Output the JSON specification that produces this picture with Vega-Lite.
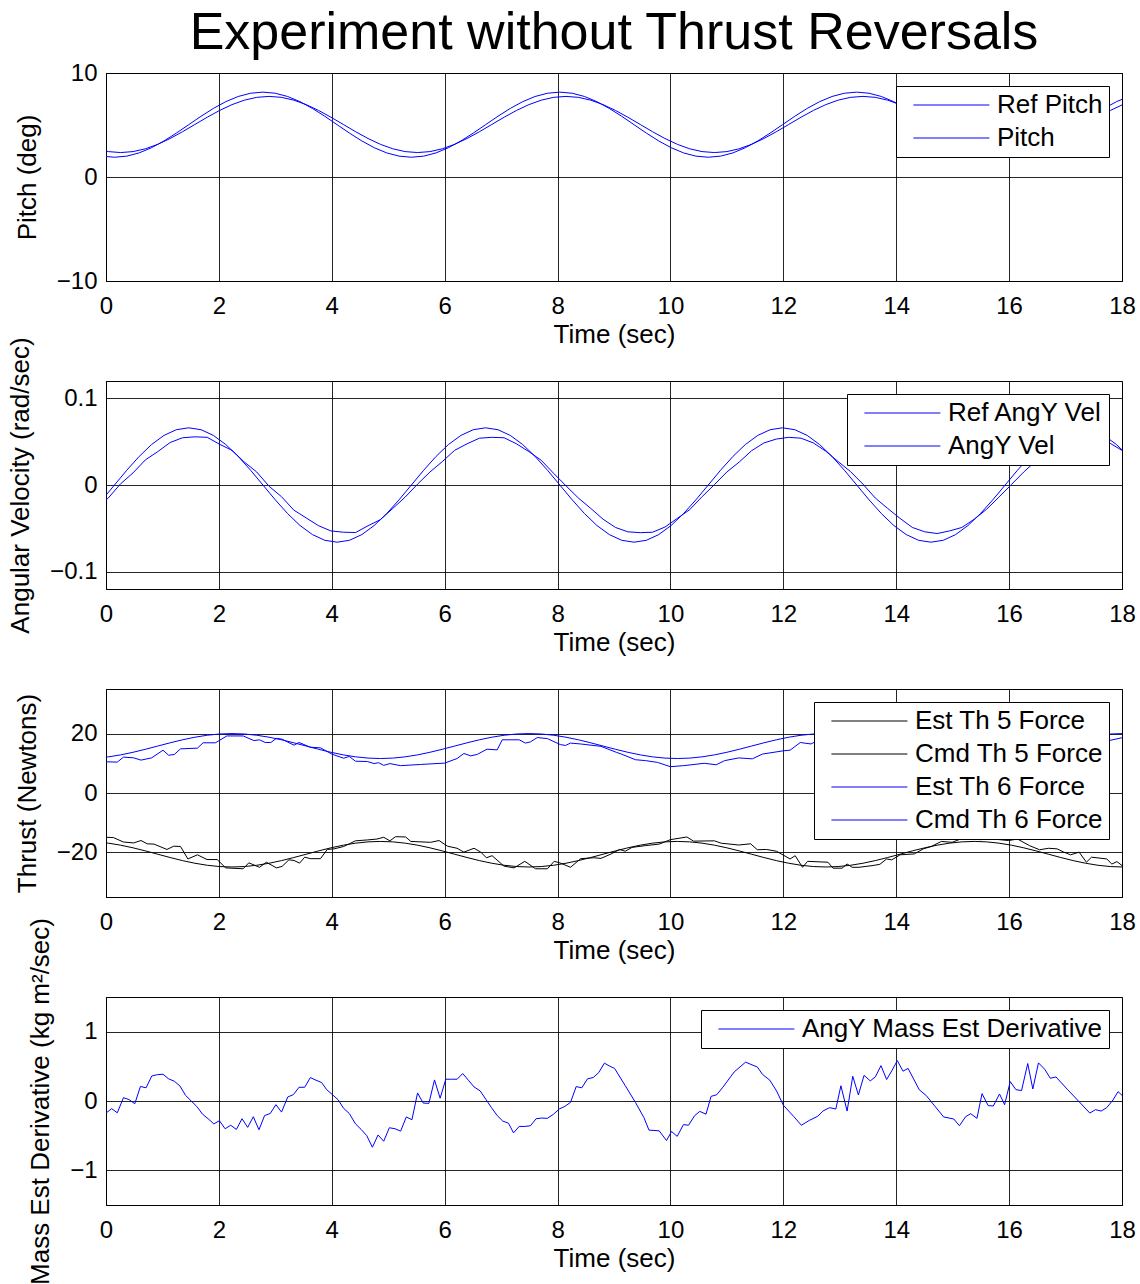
{
"$schema": "https://vega.github.io/schema/vega-lite/v6.json",
"background": "white",
"padding": {"left": 7, "top": 6, "right": 0, "bottom": 0},
"title": {"text": "Experiment without Thrust Reversals", "fontSize": 52, "font": "Liberation Sans", "fontWeight": "normal", "color": "#000000", "anchor": "middle", "frame": "group", "offset": 1},
"spacing": 100,
"bounds": "flush",
"resolve": {"scale": {"color": "independent"}, "legend": {"color": "independent"}},
"datasets": {
"gA": [
{"t":-0.069,"Ref Pitch":2.007,"Ref AngY Vel":-0.0171},{"t":0.15,"Ref Pitch":1.9,"Ref AngY Vel":0},{"t":0.369,"Ref Pitch":2.007,"Ref AngY Vel":0.0171},{"t":0.588,"Ref Pitch":2.319,"Ref AngY Vel":0.033},{"t":0.807,"Ref Pitch":2.817,"Ref AngY Vel":0.0467},{"t":1.027,"Ref Pitch":3.465,"Ref AngY Vel":0.0572},{"t":1.246,"Ref Pitch":4.22,"Ref AngY Vel":0.0638},{"t":1.465,"Ref Pitch":5.03,"Ref AngY Vel":0.066},{"t":1.684,"Ref Pitch":5.84,"Ref AngY Vel":0.0638},{"t":1.903,"Ref Pitch":6.595,"Ref AngY Vel":0.0572},{"t":2.122,"Ref Pitch":7.243,"Ref AngY Vel":0.0467},{"t":2.342,"Ref Pitch":7.741,"Ref AngY Vel":0.033},{"t":2.561,"Ref Pitch":8.053,"Ref AngY Vel":0.0171},{"t":2.78,"Ref Pitch":8.16,"Ref AngY Vel":0},{"t":2.999,"Ref Pitch":8.053,"Ref AngY Vel":-0.0171},{"t":3.218,"Ref Pitch":7.741,"Ref AngY Vel":-0.033},{"t":3.437,"Ref Pitch":7.243,"Ref AngY Vel":-0.0467},{"t":3.657,"Ref Pitch":6.595,"Ref AngY Vel":-0.0572},{"t":3.876,"Ref Pitch":5.84,"Ref AngY Vel":-0.0638},{"t":4.095,"Ref Pitch":5.03,"Ref AngY Vel":-0.066},{"t":4.314,"Ref Pitch":4.22,"Ref AngY Vel":-0.0638},{"t":4.533,"Ref Pitch":3.465,"Ref AngY Vel":-0.0572},{"t":4.752,"Ref Pitch":2.817,"Ref AngY Vel":-0.0467},{"t":4.972,"Ref Pitch":2.319,"Ref AngY Vel":-0.033},
{"t":5.191,"Ref Pitch":2.007,"Ref AngY Vel":-0.0171},{"t":5.41,"Ref Pitch":1.9,"Ref AngY Vel":0},{"t":5.629,"Ref Pitch":2.007,"Ref AngY Vel":0.0171},{"t":5.848,"Ref Pitch":2.319,"Ref AngY Vel":0.033},{"t":6.067,"Ref Pitch":2.817,"Ref AngY Vel":0.0467},{"t":6.287,"Ref Pitch":3.465,"Ref AngY Vel":0.0572},{"t":6.506,"Ref Pitch":4.22,"Ref AngY Vel":0.0638},{"t":6.725,"Ref Pitch":5.03,"Ref AngY Vel":0.066},{"t":6.944,"Ref Pitch":5.84,"Ref AngY Vel":0.0638},{"t":7.163,"Ref Pitch":6.595,"Ref AngY Vel":0.0572},{"t":7.382,"Ref Pitch":7.243,"Ref AngY Vel":0.0467},{"t":7.602,"Ref Pitch":7.741,"Ref AngY Vel":0.033},{"t":7.821,"Ref Pitch":8.053,"Ref AngY Vel":0.0171},{"t":8.04,"Ref Pitch":8.16,"Ref AngY Vel":0},{"t":8.259,"Ref Pitch":8.053,"Ref AngY Vel":-0.0171},{"t":8.478,"Ref Pitch":7.741,"Ref AngY Vel":-0.033},{"t":8.697,"Ref Pitch":7.243,"Ref AngY Vel":-0.0467},{"t":8.917,"Ref Pitch":6.595,"Ref AngY Vel":-0.0572},{"t":9.136,"Ref Pitch":5.84,"Ref AngY Vel":-0.0638},{"t":9.355,"Ref Pitch":5.03,"Ref AngY Vel":-0.066},{"t":9.574,"Ref Pitch":4.22,"Ref AngY Vel":-0.0638},{"t":9.793,"Ref Pitch":3.465,"Ref AngY Vel":-0.0572},{"t":10.012,"Ref Pitch":2.817,"Ref AngY Vel":-0.0467},{"t":10.232,"Ref Pitch":2.319,"Ref AngY Vel":-0.033},
{"t":10.451,"Ref Pitch":2.007,"Ref AngY Vel":-0.0171},{"t":10.67,"Ref Pitch":1.9,"Ref AngY Vel":0},{"t":10.889,"Ref Pitch":2.007,"Ref AngY Vel":0.0171},{"t":11.108,"Ref Pitch":2.319,"Ref AngY Vel":0.033},{"t":11.327,"Ref Pitch":2.817,"Ref AngY Vel":0.0467},{"t":11.547,"Ref Pitch":3.465,"Ref AngY Vel":0.0572},{"t":11.766,"Ref Pitch":4.22,"Ref AngY Vel":0.0638},{"t":11.985,"Ref Pitch":5.03,"Ref AngY Vel":0.066},{"t":12.204,"Ref Pitch":5.84,"Ref AngY Vel":0.0638},{"t":12.423,"Ref Pitch":6.595,"Ref AngY Vel":0.0572},{"t":12.642,"Ref Pitch":7.243,"Ref AngY Vel":0.0467},{"t":12.862,"Ref Pitch":7.741,"Ref AngY Vel":0.033},{"t":13.081,"Ref Pitch":8.053,"Ref AngY Vel":0.0171},{"t":13.3,"Ref Pitch":8.16,"Ref AngY Vel":0},{"t":13.519,"Ref Pitch":8.053,"Ref AngY Vel":-0.0171},{"t":13.738,"Ref Pitch":7.741,"Ref AngY Vel":-0.033},{"t":13.957,"Ref Pitch":7.243,"Ref AngY Vel":-0.0467},{"t":14.177,"Ref Pitch":6.595,"Ref AngY Vel":-0.0572},{"t":14.396,"Ref Pitch":5.84,"Ref AngY Vel":-0.0638},{"t":14.615,"Ref Pitch":5.03,"Ref AngY Vel":-0.066},{"t":14.834,"Ref Pitch":4.22,"Ref AngY Vel":-0.0638},{"t":15.053,"Ref Pitch":3.465,"Ref AngY Vel":-0.0572},{"t":15.272,"Ref Pitch":2.817,"Ref AngY Vel":-0.0467},{"t":15.492,"Ref Pitch":2.319,"Ref AngY Vel":-0.033},
{"t":15.711,"Ref Pitch":2.007,"Ref AngY Vel":-0.0171},{"t":15.93,"Ref Pitch":1.9,"Ref AngY Vel":0},{"t":16.149,"Ref Pitch":2.007,"Ref AngY Vel":0.0171},{"t":16.368,"Ref Pitch":2.319,"Ref AngY Vel":0.033},{"t":16.587,"Ref Pitch":2.817,"Ref AngY Vel":0.0467},{"t":16.807,"Ref Pitch":3.465,"Ref AngY Vel":0.0572},{"t":17.026,"Ref Pitch":4.22,"Ref AngY Vel":0.0638},{"t":17.245,"Ref Pitch":5.03,"Ref AngY Vel":0.066},{"t":17.464,"Ref Pitch":5.84,"Ref AngY Vel":0.0638},{"t":17.683,"Ref Pitch":6.595,"Ref AngY Vel":0.0572},{"t":17.902,"Ref Pitch":7.243,"Ref AngY Vel":0.0467},{"t":18.122,"Ref Pitch":7.741,"Ref AngY Vel":0.033}
],
"gB": [
{"t":-0.179,"Pitch":2.712,"AngY Vel":-0.0265,"Cmd Th 6 Force":11.743,"Cmd Th 5 Force":-16.447},{"t":0.041,"Pitch":2.442,"AngY Vel":-0.015,"Cmd Th 6 Force":12.163,"Cmd Th 5 Force":-16.876},{"t":0.26,"Pitch":2.35,"AngY Vel":0.0015,"Cmd Th 6 Force":12.83,"Cmd Th 5 Force":-17.559},{"t":0.479,"Pitch":2.442,"AngY Vel":0.014,"Cmd Th 6 Force":13.7,"Cmd Th 5 Force":-18.45},{"t":0.698,"Pitch":2.712,"AngY Vel":0.029,"Cmd Th 6 Force":14.713,"Cmd Th 5 Force":-19.487},{"t":0.917,"Pitch":3.141,"AngY Vel":0.0385,"Cmd Th 6 Force":15.8,"Cmd Th 5 Force":-20.6},{"t":1.136,"Pitch":3.7,"AngY Vel":0.049,"Cmd Th 6 Force":16.887,"Cmd Th 5 Force":-21.713},{"t":1.355,"Pitch":4.351,"AngY Vel":0.0545,"Cmd Th 6 Force":17.9,"Cmd Th 5 Force":-22.75},{"t":1.575,"Pitch":5.05,"AngY Vel":0.0556,"Cmd Th 6 Force":18.77,"Cmd Th 5 Force":-23.641},{"t":1.794,"Pitch":5.749,"AngY Vel":0.055,"Cmd Th 6 Force":19.437,"Cmd Th 5 Force":-24.324},{"t":2.013,"Pitch":6.4,"AngY Vel":0.047,"Cmd Th 6 Force":19.857,"Cmd Th 5 Force":-24.753},{"t":2.232,"Pitch":6.959,"AngY Vel":0.04,"Cmd Th 6 Force":20,"Cmd Th 5 Force":-24.9},{"t":2.451,"Pitch":7.388,"AngY Vel":0.0265,"Cmd Th 6 Force":19.857,"Cmd Th 5 Force":-24.753},{"t":2.67,"Pitch":7.658,"AngY Vel":0.015,"Cmd Th 6 Force":19.437,"Cmd Th 5 Force":-24.324},{"t":2.89,"Pitch":7.75,"AngY Vel":-0.0015,"Cmd Th 6 Force":18.77,"Cmd Th 5 Force":-23.641},{"t":3.109,"Pitch":7.658,"AngY Vel":-0.0135,"Cmd Th 6 Force":17.9,"Cmd Th 5 Force":-22.75},{"t":3.328,"Pitch":7.388,"AngY Vel":-0.029,"Cmd Th 6 Force":16.887,"Cmd Th 5 Force":-21.713},{"t":3.547,"Pitch":6.959,"AngY Vel":-0.038,"Cmd Th 6 Force":15.8,"Cmd Th 5 Force":-20.6},{"t":3.766,"Pitch":6.4,"AngY Vel":-0.047,"Cmd Th 6 Force":14.713,"Cmd Th 5 Force":-19.487},{"t":3.985,"Pitch":5.749,"AngY Vel":-0.053,"Cmd Th 6 Force":13.7,"Cmd Th 5 Force":-18.45},{"t":4.205,"Pitch":5.05,"AngY Vel":-0.0545,"Cmd Th 6 Force":12.83,"Cmd Th 5 Force":-17.559},{"t":4.424,"Pitch":4.351,"AngY Vel":-0.0548,"Cmd Th 6 Force":12.163,"Cmd Th 5 Force":-16.876},{"t":4.643,"Pitch":3.7,"AngY Vel":-0.047,"Cmd Th 6 Force":11.743,"Cmd Th 5 Force":-16.447},{"t":4.862,"Pitch":3.141,"AngY Vel":-0.04,"Cmd Th 6 Force":11.6,"Cmd Th 5 Force":-16.3},
{"t":5.081,"Pitch":2.712,"AngY Vel":-0.027,"Cmd Th 6 Force":11.743,"Cmd Th 5 Force":-16.447},{"t":5.3,"Pitch":2.442,"AngY Vel":-0.014,"Cmd Th 6 Force":12.163,"Cmd Th 5 Force":-16.876},{"t":5.52,"Pitch":2.35,"AngY Vel":0.001,"Cmd Th 6 Force":12.83,"Cmd Th 5 Force":-17.559},{"t":5.739,"Pitch":2.442,"AngY Vel":0.015,"Cmd Th 6 Force":13.7,"Cmd Th 5 Force":-18.45},{"t":5.958,"Pitch":2.712,"AngY Vel":0.027,"Cmd Th 6 Force":14.713,"Cmd Th 5 Force":-19.487},{"t":6.177,"Pitch":3.141,"AngY Vel":0.04,"Cmd Th 6 Force":15.8,"Cmd Th 5 Force":-20.6},{"t":6.396,"Pitch":3.7,"AngY Vel":0.0475,"Cmd Th 6 Force":16.887,"Cmd Th 5 Force":-21.713},{"t":6.615,"Pitch":4.351,"AngY Vel":0.054,"Cmd Th 6 Force":17.9,"Cmd Th 5 Force":-22.75},{"t":6.835,"Pitch":5.05,"AngY Vel":0.055,"Cmd Th 6 Force":18.77,"Cmd Th 5 Force":-23.641},{"t":7.054,"Pitch":5.749,"AngY Vel":0.0545,"Cmd Th 6 Force":19.437,"Cmd Th 5 Force":-24.324},{"t":7.273,"Pitch":6.4,"AngY Vel":0.0475,"Cmd Th 6 Force":19.857,"Cmd Th 5 Force":-24.753},{"t":7.492,"Pitch":6.959,"AngY Vel":0.0385,"Cmd Th 6 Force":20,"Cmd Th 5 Force":-24.9},{"t":7.711,"Pitch":7.388,"AngY Vel":0.0285,"Cmd Th 6 Force":19.857,"Cmd Th 5 Force":-24.753},{"t":7.93,"Pitch":7.658,"AngY Vel":0.0135,"Cmd Th 6 Force":19.437,"Cmd Th 5 Force":-24.324},{"t":8.15,"Pitch":7.75,"AngY Vel":-0.001,"Cmd Th 6 Force":18.77,"Cmd Th 5 Force":-23.641},{"t":8.369,"Pitch":7.658,"AngY Vel":-0.015,"Cmd Th 6 Force":17.9,"Cmd Th 5 Force":-22.75},{"t":8.588,"Pitch":7.388,"AngY Vel":-0.027,"Cmd Th 6 Force":16.887,"Cmd Th 5 Force":-21.713},{"t":8.807,"Pitch":6.959,"AngY Vel":-0.0395,"Cmd Th 6 Force":15.8,"Cmd Th 5 Force":-20.6},{"t":9.026,"Pitch":6.4,"AngY Vel":-0.049,"Cmd Th 6 Force":14.713,"Cmd Th 5 Force":-19.487},{"t":9.245,"Pitch":5.749,"AngY Vel":-0.054,"Cmd Th 6 Force":13.7,"Cmd Th 5 Force":-18.45},{"t":9.465,"Pitch":5.05,"AngY Vel":-0.055,"Cmd Th 6 Force":12.83,"Cmd Th 5 Force":-17.559},{"t":9.684,"Pitch":4.351,"AngY Vel":-0.0545,"Cmd Th 6 Force":12.163,"Cmd Th 5 Force":-16.876},{"t":9.903,"Pitch":3.7,"AngY Vel":-0.0485,"Cmd Th 6 Force":11.743,"Cmd Th 5 Force":-16.447},{"t":10.122,"Pitch":3.141,"AngY Vel":-0.0385,"Cmd Th 6 Force":11.6,"Cmd Th 5 Force":-16.3},
{"t":10.341,"Pitch":2.712,"AngY Vel":-0.0285,"Cmd Th 6 Force":11.743,"Cmd Th 5 Force":-16.447},{"t":10.56,"Pitch":2.442,"AngY Vel":-0.0135,"Cmd Th 6 Force":12.163,"Cmd Th 5 Force":-16.876},{"t":10.78,"Pitch":2.35,"AngY Vel":0.0005,"Cmd Th 6 Force":12.83,"Cmd Th 5 Force":-17.559},{"t":10.999,"Pitch":2.442,"AngY Vel":0.015,"Cmd Th 6 Force":13.7,"Cmd Th 5 Force":-18.45},{"t":11.218,"Pitch":2.712,"AngY Vel":0.0265,"Cmd Th 6 Force":14.713,"Cmd Th 5 Force":-19.487},{"t":11.437,"Pitch":3.141,"AngY Vel":0.0395,"Cmd Th 6 Force":15.8,"Cmd Th 5 Force":-20.6},{"t":11.656,"Pitch":3.7,"AngY Vel":0.0485,"Cmd Th 6 Force":16.887,"Cmd Th 5 Force":-21.713},{"t":11.875,"Pitch":4.351,"AngY Vel":0.053,"Cmd Th 6 Force":17.9,"Cmd Th 5 Force":-22.75},{"t":12.095,"Pitch":5.05,"AngY Vel":0.055,"Cmd Th 6 Force":18.77,"Cmd Th 5 Force":-23.641},{"t":12.314,"Pitch":5.749,"AngY Vel":0.054,"Cmd Th 6 Force":19.437,"Cmd Th 5 Force":-24.324},{"t":12.533,"Pitch":6.4,"AngY Vel":0.0485,"Cmd Th 6 Force":19.857,"Cmd Th 5 Force":-24.753},{"t":12.752,"Pitch":6.959,"AngY Vel":0.039,"Cmd Th 6 Force":20,"Cmd Th 5 Force":-24.9},{"t":12.971,"Pitch":7.388,"AngY Vel":0.027,"Cmd Th 6 Force":19.857,"Cmd Th 5 Force":-24.753},{"t":13.19,"Pitch":7.658,"AngY Vel":0.0155,"Cmd Th 6 Force":19.437,"Cmd Th 5 Force":-24.324},{"t":13.41,"Pitch":7.75,"AngY Vel":0.001,"Cmd Th 6 Force":18.77,"Cmd Th 5 Force":-23.641},{"t":13.629,"Pitch":7.658,"AngY Vel":-0.015,"Cmd Th 6 Force":17.9,"Cmd Th 5 Force":-22.75},{"t":13.848,"Pitch":7.388,"AngY Vel":-0.027,"Cmd Th 6 Force":16.887,"Cmd Th 5 Force":-21.713},{"t":14.067,"Pitch":6.959,"AngY Vel":-0.0385,"Cmd Th 6 Force":15.8,"Cmd Th 5 Force":-20.6},{"t":14.286,"Pitch":6.4,"AngY Vel":-0.049,"Cmd Th 6 Force":14.713,"Cmd Th 5 Force":-19.487},{"t":14.505,"Pitch":5.749,"AngY Vel":-0.054,"Cmd Th 6 Force":13.7,"Cmd Th 5 Force":-18.45},{"t":14.725,"Pitch":5.05,"AngY Vel":-0.056,"Cmd Th 6 Force":12.83,"Cmd Th 5 Force":-17.559},{"t":14.944,"Pitch":4.351,"AngY Vel":-0.053,"Cmd Th 6 Force":12.163,"Cmd Th 5 Force":-16.876},{"t":15.163,"Pitch":3.7,"AngY Vel":-0.049,"Cmd Th 6 Force":11.743,"Cmd Th 5 Force":-16.447},{"t":15.382,"Pitch":3.141,"AngY Vel":-0.0395,"Cmd Th 6 Force":11.6,"Cmd Th 5 Force":-16.3},
{"t":15.601,"Pitch":2.712,"AngY Vel":-0.028,"Cmd Th 6 Force":11.743,"Cmd Th 5 Force":-16.447},{"t":15.82,"Pitch":2.442,"AngY Vel":-0.014,"Cmd Th 6 Force":12.163,"Cmd Th 5 Force":-16.876},{"t":16.04,"Pitch":2.35,"AngY Vel":0.0005,"Cmd Th 6 Force":12.83,"Cmd Th 5 Force":-17.559},{"t":16.259,"Pitch":2.442,"AngY Vel":0.015,"Cmd Th 6 Force":13.7,"Cmd Th 5 Force":-18.45},{"t":16.478,"Pitch":2.712,"AngY Vel":0.028,"Cmd Th 6 Force":14.713,"Cmd Th 5 Force":-19.487},{"t":16.697,"Pitch":3.141,"AngY Vel":0.0385,"Cmd Th 6 Force":15.8,"Cmd Th 5 Force":-20.6},{"t":16.916,"Pitch":3.7,"AngY Vel":0.0485,"Cmd Th 6 Force":16.887,"Cmd Th 5 Force":-21.713},{"t":17.135,"Pitch":4.351,"AngY Vel":0.054,"Cmd Th 6 Force":17.9,"Cmd Th 5 Force":-22.75},{"t":17.355,"Pitch":5.05,"AngY Vel":0.055,"Cmd Th 6 Force":18.77,"Cmd Th 5 Force":-23.641},{"t":17.574,"Pitch":5.749,"AngY Vel":0.0535,"Cmd Th 6 Force":19.437,"Cmd Th 5 Force":-24.324},{"t":17.793,"Pitch":6.4,"AngY Vel":0.048,"Cmd Th 6 Force":19.857,"Cmd Th 5 Force":-24.753},{"t":18.012,"Pitch":6.959,"AngY Vel":0.0395,"Cmd Th 6 Force":20,"Cmd Th 5 Force":-24.9}
],
"th5": [
{"t":0,"Est Th 5 Force":-14.9},{"t":0.13,"Est Th 5 Force":-15.0},{"t":0.31,"Est Th 5 Force":-16.5},{"t":0.49,"Est Th 5 Force":-16.8},{"t":0.62,"Est Th 5 Force":-16.0},{"t":0.73,"Est Th 5 Force":-17.1},{"t":0.85,"Est Th 5 Force":-17.2},{"t":1.08,"Est Th 5 Force":-19.0},{"t":1.2,"Est Th 5 Force":-17.9},{"t":1.32,"Est Th 5 Force":-18.0},{"t":1.45,"Est Th 5 Force":-22.2},{"t":1.62,"Est Th 5 Force":-20.8},{"t":1.79,"Est Th 5 Force":-22.4},{"t":1.97,"Est Th 5 Force":-22.4},{"t":2.12,"Est Th 5 Force":-25.2},{"t":2.43,"Est Th 5 Force":-25.5},{"t":2.53,"Est Th 5 Force":-23.5},{"t":2.72,"Est Th 5 Force":-25.0},{"t":2.84,"Est Th 5 Force":-23.3},{"t":3.02,"Est Th 5 Force":-25.2},{"t":3.12,"Est Th 5 Force":-24.7},{"t":3.24,"Est Th 5 Force":-22.5},{"t":3.33,"Est Th 5 Force":-22.7},{"t":3.43,"Est Th 5 Force":-23.6},{"t":3.52,"Est Th 5 Force":-21.6},{"t":3.62,"Est Th 5 Force":-22.1},{"t":3.8,"Est Th 5 Force":-22.1},{"t":3.92,"Est Th 5 Force":-19.0},{"t":4.04,"Est Th 5 Force":-18.8},{"t":4.21,"Est Th 5 Force":-18.0},{"t":4.31,"Est Th 5 Force":-17.1},{"t":4.42,"Est Th 5 Force":-16.1},{"t":4.63,"Est Th 5 Force":-15.8},{"t":4.8,"Est Th 5 Force":-15.5},{"t":4.92,"Est Th 5 Force":-14.9},{"t":5.03,"Est Th 5 Force":-16.1},{"t":5.13,"Est Th 5 Force":-14.7},{"t":5.31,"Est Th 5 Force":-14.8},{"t":5.4,"Est Th 5 Force":-16.3},{"t":5.75,"Est Th 5 Force":-16.6},{"t":5.9,"Est Th 5 Force":-16.0},{"t":6.05,"Est Th 5 Force":-17.9},{"t":6.22,"Est Th 5 Force":-18.6},{"t":6.34,"Est Th 5 Force":-19.9},{"t":6.52,"Est Th 5 Force":-18.6},{"t":6.64,"Est Th 5 Force":-19.9},{"t":6.74,"Est Th 5 Force":-21.8},{"t":6.84,"Est Th 5 Force":-21.1},{"t":7.05,"Est Th 5 Force":-24.6},{"t":7.23,"Est Th 5 Force":-25.2},{"t":7.42,"Est Th 5 Force":-23.0},{"t":7.61,"Est Th 5 Force":-25.5},{"t":7.82,"Est Th 5 Force":-25.5},{"t":7.94,"Est Th 5 Force":-23.0},{"t":8.04,"Est Th 5 Force":-23.5},{"t":8.23,"Est Th 5 Force":-25.0},{"t":8.41,"Est Th 5 Force":-22.1},{"t":8.64,"Est Th 5 Force":-21.8},{"t":8.77,"Est Th 5 Force":-22.0},{"t":8.95,"Est Th 5 Force":-20.5},{"t":9.1,"Est Th 5 Force":-19.0},{"t":9.2,"Est Th 5 Force":-19.6},{"t":9.32,"Est Th 5 Force":-18.3},{"t":9.56,"Est Th 5 Force":-17.7},{"t":9.8,"Est Th 5 Force":-17.2},{"t":10.0,"Est Th 5 Force":-15.7},{"t":10.29,"Est Th 5 Force":-14.8},{"t":10.41,"Est Th 5 Force":-16.2},{"t":10.78,"Est Th 5 Force":-16.1},{"t":10.9,"Est Th 5 Force":-16.9},{"t":11.21,"Est Th 5 Force":-17.5},{"t":11.42,"Est Th 5 Force":-17.1},{"t":11.54,"Est Th 5 Force":-19.1},{"t":11.7,"Est Th 5 Force":-19.0},{"t":11.88,"Est Th 5 Force":-19.6},{"t":12.12,"Est Th 5 Force":-22.2},{"t":12.21,"Est Th 5 Force":-21.1},{"t":12.34,"Est Th 5 Force":-25.0},{"t":12.43,"Est Th 5 Force":-23.0},{"t":12.79,"Est Th 5 Force":-23.3},{"t":12.88,"Est Th 5 Force":-25.3},{"t":13.04,"Est Th 5 Force":-25.3},{"t":13.13,"Est Th 5 Force":-23.9},{"t":13.22,"Est Th 5 Force":-25.0},{"t":13.34,"Est Th 5 Force":-25.0},{"t":13.59,"Est Th 5 Force":-24.4},{"t":13.71,"Est Th 5 Force":-24.0},{"t":13.83,"Est Th 5 Force":-22.2},{"t":13.92,"Est Th 5 Force":-22.5},{"t":14.07,"Est Th 5 Force":-20.8},{"t":14.32,"Est Th 5 Force":-20.5},{"t":14.48,"Est Th 5 Force":-18.8},{"t":14.62,"Est Th 5 Force":-18.0},{"t":14.8,"Est Th 5 Force":-16.3},{"t":14.99,"Est Th 5 Force":-16.6},{"t":15.14,"Est Th 5 Force":-15.5},{"t":15.32,"Est Th 5 Force":-15.2},{"t":15.48,"Est Th 5 Force":-15.7},{"t":15.72,"Est Th 5 Force":-15.5},{"t":15.99,"Est Th 5 Force":-16.0},{"t":16.15,"Est Th 5 Force":-15.5},{"t":16.36,"Est Th 5 Force":-17.7},{"t":16.54,"Est Th 5 Force":-19.1},{"t":16.7,"Est Th 5 Force":-18.6},{"t":16.85,"Est Th 5 Force":-18.8},{"t":16.97,"Est Th 5 Force":-19.9},{"t":17.09,"Est Th 5 Force":-20.8},{"t":17.24,"Est Th 5 Force":-19.9},{"t":17.37,"Est Th 5 Force":-23.3},{"t":17.46,"Est Th 5 Force":-21.6},{"t":17.73,"Est Th 5 Force":-22.2},{"t":17.82,"Est Th 5 Force":-23.9},{"t":17.91,"Est Th 5 Force":-23.1},{"t":18.0,"Est Th 5 Force":-24.4}
],
"th6": [
{"t":0,"Est Th 6 Force":10.5},{"t":0.2,"Est Th 6 Force":10.4},{"t":0.31,"Est Th 6 Force":12.07},{"t":0.49,"Est Th 6 Force":11.84},{"t":0.62,"Est Th 6 Force":11.06},{"t":0.81,"Est Th 6 Force":11.84},{"t":1.01,"Est Th 6 Force":14.4},{"t":1.11,"Est Th 6 Force":12.7},{"t":1.21,"Est Th 6 Force":12.96},{"t":1.32,"Est Th 6 Force":14.86},{"t":1.62,"Est Th 6 Force":15.1},{"t":1.72,"Est Th 6 Force":16.9},{"t":1.94,"Est Th 6 Force":16.9},{"t":2.14,"Est Th 6 Force":19.2},{"t":2.43,"Est Th 6 Force":19.2},{"t":2.62,"Est Th 6 Force":17.65},{"t":2.72,"Est Th 6 Force":17.9},{"t":2.82,"Est Th 6 Force":17.0},{"t":2.92,"Est Th 6 Force":17.0},{"t":3.02,"Est Th 6 Force":18.4},{"t":3.12,"Est Th 6 Force":18.1},{"t":3.33,"Est Th 6 Force":16.1},{"t":3.42,"Est Th 6 Force":17.0},{"t":3.62,"Est Th 6 Force":15.4},{"t":3.8,"Est Th 6 Force":15.2},{"t":4.0,"Est Th 6 Force":13.1},{"t":4.21,"Est Th 6 Force":11.7},{"t":4.31,"Est Th 6 Force":12.3},{"t":4.42,"Est Th 6 Force":10.7},{"t":4.63,"Est Th 6 Force":10.6},{"t":4.75,"Est Th 6 Force":9.9},{"t":4.83,"Est Th 6 Force":10.2},{"t":4.92,"Est Th 6 Force":9.3},{"t":5.03,"Est Th 6 Force":9.9},{"t":5.22,"Est Th 6 Force":9.2},{"t":5.57,"Est Th 6 Force":9.6},{"t":6.0,"Est Th 6 Force":10.06},{"t":6.22,"Est Th 6 Force":11.6},{"t":6.34,"Est Th 6 Force":13.3},{"t":6.46,"Est Th 6 Force":12.5},{"t":6.58,"Est Th 6 Force":13.0},{"t":6.75,"Est Th 6 Force":14.75},{"t":6.93,"Est Th 6 Force":14.5},{"t":7.02,"Est Th 6 Force":17.9},{"t":7.32,"Est Th 6 Force":17.9},{"t":7.43,"Est Th 6 Force":16.8},{"t":7.52,"Est Th 6 Force":17.2},{"t":7.64,"Est Th 6 Force":18.66},{"t":7.82,"Est Th 6 Force":18.3},{"t":8.05,"Est Th 6 Force":16.3},{"t":8.14,"Est Th 6 Force":16.0},{"t":8.23,"Est Th 6 Force":16.8},{"t":8.41,"Est Th 6 Force":16.5},{"t":8.77,"Est Th 6 Force":15.7},{"t":9.04,"Est Th 6 Force":13.7},{"t":9.13,"Est Th 6 Force":13.1},{"t":9.38,"Est Th 6 Force":11.2},{"t":9.56,"Est Th 6 Force":10.9},{"t":9.77,"Est Th 6 Force":10.3},{"t":10.0,"Est Th 6 Force":8.85},{"t":10.23,"Est Th 6 Force":9.2},{"t":10.6,"Est Th 6 Force":10.0},{"t":10.81,"Est Th 6 Force":9.5},{"t":10.96,"Est Th 6 Force":10.9},{"t":11.21,"Est Th 6 Force":11.8},{"t":11.45,"Est Th 6 Force":11.5},{"t":11.63,"Est Th 6 Force":13.1},{"t":12.0,"Est Th 6 Force":14.2},{"t":12.12,"Est Th 6 Force":14.4},{"t":12.3,"Est Th 6 Force":17.0},{"t":12.49,"Est Th 6 Force":16.5},{"t":12.7,"Est Th 6 Force":18.6},{"t":12.9,"Est Th 6 Force":19.0},{"t":13.1,"Est Th 6 Force":18.4},{"t":13.3,"Est Th 6 Force":18.7},{"t":13.5,"Est Th 6 Force":17.4},{"t":13.7,"Est Th 6 Force":17.0},{"t":13.9,"Est Th 6 Force":15.7},{"t":14.1,"Est Th 6 Force":14.9},{"t":14.3,"Est Th 6 Force":13.6},{"t":14.5,"Est Th 6 Force":12.8},{"t":14.7,"Est Th 6 Force":11.4},{"t":14.9,"Est Th 6 Force":10.8},{"t":15.1,"Est Th 6 Force":10.1},{"t":15.3,"Est Th 6 Force":9.7},{"t":15.5,"Est Th 6 Force":9.9},{"t":15.7,"Est Th 6 Force":10.4},{"t":15.9,"Est Th 6 Force":11.2},{"t":16.1,"Est Th 6 Force":12.3},{"t":16.3,"Est Th 6 Force":13.0},{"t":16.5,"Est Th 6 Force":14.2},{"t":16.7,"Est Th 6 Force":15.0},{"t":16.9,"Est Th 6 Force":15.6},{"t":17.1,"Est Th 6 Force":16.4},{"t":17.3,"Est Th 6 Force":16.8},{"t":17.5,"Est Th 6 Force":17.1},{"t":17.76,"Est Th 6 Force":17.6},{"t":18.0,"Est Th 6 Force":18.6}
],
"mass": [
{"t":0,"AngY Mass Est Derivative":-0.174},{"t":0.1,"AngY Mass Est Derivative":-0.11},{"t":0.2,"AngY Mass Est Derivative":-0.17},{"t":0.31,"AngY Mass Est Derivative":0.048},{"t":0.41,"AngY Mass Est Derivative":0.02},{"t":0.51,"AngY Mass Est Derivative":-0.04},{"t":0.61,"AngY Mass Est Derivative":0.21},{"t":0.71,"AngY Mass Est Derivative":0.19},{"t":0.81,"AngY Mass Est Derivative":0.36},{"t":0.91,"AngY Mass Est Derivative":0.38},{"t":1.01,"AngY Mass Est Derivative":0.386},{"t":1.11,"AngY Mass Est Derivative":0.32},{"t":1.21,"AngY Mass Est Derivative":0.285},{"t":1.31,"AngY Mass Est Derivative":0.217},{"t":1.41,"AngY Mass Est Derivative":0.08},{"t":1.51,"AngY Mass Est Derivative":0.0},{"t":1.61,"AngY Mass Est Derivative":-0.08},{"t":1.71,"AngY Mass Est Derivative":-0.19},{"t":1.81,"AngY Mass Est Derivative":-0.256},{"t":1.91,"AngY Mass Est Derivative":-0.33},{"t":2.01,"AngY Mass Est Derivative":-0.285},{"t":2.11,"AngY Mass Est Derivative":-0.4},{"t":2.21,"AngY Mass Est Derivative":-0.35},{"t":2.31,"AngY Mass Est Derivative":-0.41},{"t":2.41,"AngY Mass Est Derivative":-0.256},{"t":2.51,"AngY Mass Est Derivative":-0.38},{"t":2.61,"AngY Mass Est Derivative":-0.227},{"t":2.71,"AngY Mass Est Derivative":-0.415},{"t":2.81,"AngY Mass Est Derivative":-0.21},{"t":2.91,"AngY Mass Est Derivative":-0.18},{"t":3.01,"AngY Mass Est Derivative":-0.053},{"t":3.11,"AngY Mass Est Derivative":-0.16},{"t":3.22,"AngY Mass Est Derivative":0.058},{"t":3.32,"AngY Mass Est Derivative":0.092},{"t":3.42,"AngY Mass Est Derivative":0.198},{"t":3.52,"AngY Mass Est Derivative":0.198},{"t":3.62,"AngY Mass Est Derivative":0.338},{"t":3.72,"AngY Mass Est Derivative":0.3},{"t":3.82,"AngY Mass Est Derivative":0.266},{"t":3.91,"AngY Mass Est Derivative":0.164},{"t":4.01,"AngY Mass Est Derivative":0.092},{"t":4.11,"AngY Mass Est Derivative":0.02},{"t":4.21,"AngY Mass Est Derivative":-0.106},{"t":4.31,"AngY Mass Est Derivative":-0.18},{"t":4.42,"AngY Mass Est Derivative":-0.33},{"t":4.52,"AngY Mass Est Derivative":-0.41},{"t":4.62,"AngY Mass Est Derivative":-0.5},{"t":4.72,"AngY Mass Est Derivative":-0.667},{"t":4.82,"AngY Mass Est Derivative":-0.49},{"t":4.92,"AngY Mass Est Derivative":-0.58},{"t":5.02,"AngY Mass Est Derivative":-0.386},{"t":5.12,"AngY Mass Est Derivative":-0.4},{"t":5.22,"AngY Mass Est Derivative":-0.435},{"t":5.32,"AngY Mass Est Derivative":-0.23},{"t":5.42,"AngY Mass Est Derivative":-0.27},{"t":5.52,"AngY Mass Est Derivative":0.116},{"t":5.62,"AngY Mass Est Derivative":-0.03},{"t":5.72,"AngY Mass Est Derivative":-0.034},{"t":5.82,"AngY Mass Est Derivative":0.304},{"t":5.92,"AngY Mass Est Derivative":0.04},{"t":6.02,"AngY Mass Est Derivative":0.314},{"t":6.12,"AngY Mass Est Derivative":0.314},{"t":6.22,"AngY Mass Est Derivative":0.314},{"t":6.32,"AngY Mass Est Derivative":0.396},{"t":6.42,"AngY Mass Est Derivative":0.3},{"t":6.52,"AngY Mass Est Derivative":0.203},{"t":6.63,"AngY Mass Est Derivative":0.145},{"t":6.73,"AngY Mass Est Derivative":0.024},{"t":6.83,"AngY Mass Est Derivative":-0.097},{"t":6.93,"AngY Mass Est Derivative":-0.21},{"t":7.03,"AngY Mass Est Derivative":-0.29},{"t":7.13,"AngY Mass Est Derivative":-0.32},{"t":7.22,"AngY Mass Est Derivative":-0.46},{"t":7.32,"AngY Mass Est Derivative":-0.367},{"t":7.42,"AngY Mass Est Derivative":-0.367},{"t":7.52,"AngY Mass Est Derivative":-0.357},{"t":7.62,"AngY Mass Est Derivative":-0.256},{"t":7.72,"AngY Mass Est Derivative":-0.246},{"t":7.82,"AngY Mass Est Derivative":-0.25},{"t":7.93,"AngY Mass Est Derivative":-0.19},{"t":8.03,"AngY Mass Est Derivative":-0.116},{"t":8.13,"AngY Mass Est Derivative":-0.077},{"t":8.23,"AngY Mass Est Derivative":-0.02},{"t":8.33,"AngY Mass Est Derivative":0.208},{"t":8.43,"AngY Mass Est Derivative":0.19},{"t":8.53,"AngY Mass Est Derivative":0.32},{"t":8.63,"AngY Mass Est Derivative":0.338},{"t":8.73,"AngY Mass Est Derivative":0.41},{"t":8.83,"AngY Mass Est Derivative":0.546},{"t":8.93,"AngY Mass Est Derivative":0.5},{"t":9.01,"AngY Mass Est Derivative":0.47},{"t":9.2,"AngY Mass Est Derivative":0.22},{"t":9.38,"AngY Mass Est Derivative":-0.02},{"t":9.53,"AngY Mass Est Derivative":-0.24},{"t":9.62,"AngY Mass Est Derivative":-0.42},{"t":9.8,"AngY Mass Est Derivative":-0.43},{"t":9.93,"AngY Mass Est Derivative":-0.57},{"t":10.02,"AngY Mass Est Derivative":-0.44},{"t":10.12,"AngY Mass Est Derivative":-0.51},{"t":10.23,"AngY Mass Est Derivative":-0.34},{"t":10.32,"AngY Mass Est Derivative":-0.35},{"t":10.43,"AngY Mass Est Derivative":-0.21},{"t":10.52,"AngY Mass Est Derivative":-0.15},{"t":10.63,"AngY Mass Est Derivative":-0.19},{"t":10.72,"AngY Mass Est Derivative":0.067},{"t":10.82,"AngY Mass Est Derivative":0.09},{"t":10.93,"AngY Mass Est Derivative":0.2},{"t":11.13,"AngY Mass Est Derivative":0.42},{"t":11.33,"AngY Mass Est Derivative":0.56},{"t":11.54,"AngY Mass Est Derivative":0.49},{"t":11.63,"AngY Mass Est Derivative":0.385},{"t":11.76,"AngY Mass Est Derivative":0.3},{"t":11.88,"AngY Mass Est Derivative":0.145},{"t":12.0,"AngY Mass Est Derivative":-0.06},{"t":12.18,"AngY Mass Est Derivative":-0.22},{"t":12.32,"AngY Mass Est Derivative":-0.35},{"t":12.46,"AngY Mass Est Derivative":-0.28},{"t":12.61,"AngY Mass Est Derivative":-0.22},{"t":12.7,"AngY Mass Est Derivative":-0.145},{"t":12.82,"AngY Mass Est Derivative":-0.096},{"t":12.93,"AngY Mass Est Derivative":-0.116},{"t":13.02,"AngY Mass Est Derivative":0.22},{"t":13.13,"AngY Mass Est Derivative":-0.145},{"t":13.23,"AngY Mass Est Derivative":0.357},{"t":13.33,"AngY Mass Est Derivative":0.087},{"t":13.43,"AngY Mass Est Derivative":0.37},{"t":13.54,"AngY Mass Est Derivative":0.29},{"t":13.63,"AngY Mass Est Derivative":0.347},{"t":13.73,"AngY Mass Est Derivative":0.51},{"t":13.83,"AngY Mass Est Derivative":0.31},{"t":13.92,"AngY Mass Est Derivative":0.434},{"t":14.02,"AngY Mass Est Derivative":0.583},{"t":14.12,"AngY Mass Est Derivative":0.43},{"t":14.21,"AngY Mass Est Derivative":0.47},{"t":14.41,"AngY Mass Est Derivative":0.16},{"t":14.53,"AngY Mass Est Derivative":0.08},{"t":14.68,"AngY Mass Est Derivative":-0.07},{"t":14.84,"AngY Mass Est Derivative":-0.23},{"t":15.02,"AngY Mass Est Derivative":-0.26},{"t":15.12,"AngY Mass Est Derivative":-0.357},{"t":15.23,"AngY Mass Est Derivative":-0.226},{"t":15.32,"AngY Mass Est Derivative":-0.183},{"t":15.43,"AngY Mass Est Derivative":-0.25},{"t":15.52,"AngY Mass Est Derivative":0.106},{"t":15.63,"AngY Mass Est Derivative":-0.067},{"t":15.72,"AngY Mass Est Derivative":-0.072},{"t":15.83,"AngY Mass Est Derivative":0.101},{"t":15.92,"AngY Mass Est Derivative":-0.053},{"t":16.02,"AngY Mass Est Derivative":0.28},{"t":16.12,"AngY Mass Est Derivative":0.164},{"t":16.22,"AngY Mass Est Derivative":0.15},{"t":16.33,"AngY Mass Est Derivative":0.54},{"t":16.42,"AngY Mass Est Derivative":0.173},{"t":16.52,"AngY Mass Est Derivative":0.55},{"t":16.63,"AngY Mass Est Derivative":0.458},{"t":16.73,"AngY Mass Est Derivative":0.328},{"t":16.83,"AngY Mass Est Derivative":0.347},{"t":17.03,"AngY Mass Est Derivative":0.17},{"t":17.24,"AngY Mass Est Derivative":-0.01},{"t":17.43,"AngY Mass Est Derivative":-0.174},{"t":17.53,"AngY Mass Est Derivative":-0.125},{"t":17.63,"AngY Mass Est Derivative":-0.145},{"t":17.73,"AngY Mass Est Derivative":-0.096},{"t":17.84,"AngY Mass Est Derivative":0.014},{"t":17.93,"AngY Mass Est Derivative":0.135},{"t":18.0,"AngY Mass Est Derivative":0.082}
]
},
"vconcat": [
{
"width": 1016, "height": 208,
"layer": [
{"data": {"name": "gA"}, "transform": [{"fold": ["Ref Pitch"], "as": ["s", "v"]}], "mark": {"type": "line", "clip": true, "strokeWidth": 1},
 "encoding": {
  "x": {"field": "t", "type": "quantitative", "title": "Time (sec)", "scale": {"domain": [0, 18], "nice": false, "zero": false}, "axis": {"values": [0,2,4,6,8,10,12,14,16,18], "format": "d"}},
  "y": {"field": "v", "type": "quantitative", "title": "Pitch (deg)", "scale": {"domain": [-10, 10], "nice": false}, "axis": {"values": [-10, 0, 10]}},
  "color": {"field": "s", "type": "nominal", "scale": {"domain": ["Ref Pitch", "Pitch"], "range": ["#0000ff", "#0000ff"]}, "legend": {"title": null}}
 }},
{"data": {"name": "gB"}, "transform": [{"fold": ["Pitch"], "as": ["s", "v"]}], "mark": {"type": "line", "clip": true, "strokeWidth": 1},
 "encoding": {
  "x": {"field": "t", "type": "quantitative", "title": "Time (sec)"},
  "y": {"field": "v", "type": "quantitative", "title": "Pitch (deg)"},
  "color": {"field": "s", "type": "nominal"}
 }}
]
},
{
"width": 1016, "height": 208,
"layer": [
{"data": {"name": "gA"}, "transform": [{"fold": ["Ref AngY Vel"], "as": ["s", "v"]}], "mark": {"type": "line", "clip": true, "strokeWidth": 1},
 "encoding": {
  "x": {"field": "t", "type": "quantitative", "title": "Time (sec)", "scale": {"domain": [0, 18], "nice": false, "zero": false}, "axis": {"values": [0,2,4,6,8,10,12,14,16,18], "format": "d"}},
  "y": {"field": "v", "type": "quantitative", "title": "Angular Velocity (rad/sec)", "scale": {"domain": [-0.12, 0.12], "nice": false}, "axis": {"values": [-0.1, 0, 0.1], "format": "~g"}},
  "color": {"field": "s", "type": "nominal", "scale": {"domain": ["Ref AngY Vel", "AngY Vel"], "range": ["#0000ff", "#0000ff"]}, "legend": {"title": null}}
 }},
{"data": {"name": "gB"}, "transform": [{"fold": ["AngY Vel"], "as": ["s", "v"]}], "mark": {"type": "line", "clip": true, "strokeWidth": 1},
 "encoding": {
  "x": {"field": "t", "type": "quantitative", "title": "Time (sec)"},
  "y": {"field": "v", "type": "quantitative", "title": "Angular Velocity (rad/sec)"},
  "color": {"field": "s", "type": "nominal"}
 }}
]
},
{
"width": 1016, "height": 208,
"layer": [
{"data": {"name": "th5"}, "transform": [{"fold": ["Est Th 5 Force"], "as": ["s", "v"]}], "mark": {"type": "line", "clip": true, "strokeWidth": 1},
 "encoding": {
  "x": {"field": "t", "type": "quantitative", "title": "Time (sec)", "scale": {"domain": [0, 18], "nice": false, "zero": false}, "axis": {"values": [0,2,4,6,8,10,12,14,16,18], "format": "d"}},
  "y": {"field": "v", "type": "quantitative", "title": "Thrust (Newtons)", "scale": {"domain": [-35, 35], "nice": false}, "axis": {"values": [-20, 0, 20]}},
  "color": {"field": "s", "type": "nominal", "scale": {"domain": ["Est Th 5 Force", "Cmd Th 5 Force", "Est Th 6 Force", "Cmd Th 6 Force"], "range": ["#000000", "#000000", "#0000ff", "#0000ff"]}, "legend": {"title": null}}
 }},
{"data": {"name": "gB"}, "transform": [{"fold": ["Cmd Th 5 Force"], "as": ["s", "v"]}], "mark": {"type": "line", "clip": true, "strokeWidth": 1},
 "encoding": {
  "x": {"field": "t", "type": "quantitative", "title": "Time (sec)"},
  "y": {"field": "v", "type": "quantitative", "title": "Thrust (Newtons)"},
  "color": {"field": "s", "type": "nominal"}
 }},
{"data": {"name": "th6"}, "transform": [{"fold": ["Est Th 6 Force"], "as": ["s", "v"]}], "mark": {"type": "line", "clip": true, "strokeWidth": 1},
 "encoding": {
  "x": {"field": "t", "type": "quantitative", "title": "Time (sec)"},
  "y": {"field": "v", "type": "quantitative", "title": "Thrust (Newtons)"},
  "color": {"field": "s", "type": "nominal"}
 }},
{"data": {"name": "gB"}, "transform": [{"fold": ["Cmd Th 6 Force"], "as": ["s", "v"]}], "mark": {"type": "line", "clip": true, "strokeWidth": 1},
 "encoding": {
  "x": {"field": "t", "type": "quantitative", "title": "Time (sec)"},
  "y": {"field": "v", "type": "quantitative", "title": "Thrust (Newtons)"},
  "color": {"field": "s", "type": "nominal"}
 }}
]
},
{
"width": 1016, "height": 208,
"layer": [
{"data": {"name": "mass"}, "transform": [{"fold": ["AngY Mass Est Derivative"], "as": ["s", "v"]}], "mark": {"type": "line", "clip": true, "strokeWidth": 1},
 "encoding": {
  "x": {"field": "t", "type": "quantitative", "title": "Time (sec)", "scale": {"domain": [0, 18], "nice": false, "zero": false}, "axis": {"values": [0,2,4,6,8,10,12,14,16,18], "format": "d"}},
  "y": {"field": "v", "type": "quantitative", "title": "Mass Est Derivative (kg m²/sec)", "scale": {"domain": [-1.5, 1.5], "nice": false}, "axis": {"values": [-1, 0, 1]}},
  "color": {"field": "s", "type": "nominal", "scale": {"domain": ["AngY Mass Est Derivative"], "range": ["#0000ff"]}, "legend": {"title": null}}
 }}
]
}
],
"config": {
 "font": "Liberation Sans",
 "view": {"stroke": "#000000", "strokeWidth": 1},
 "axis": {"labelFont": "Liberation Sans", "labelFontSize": 24, "labelColor": "#000000", "titleFont": "Liberation Sans", "titleFontSize": 26, "titleFontWeight": "normal", "titleColor": "#000000", "grid": true, "gridColor": "#000000", "gridOpacity": 0.85, "gridWidth": 1, "domainColor": "#000000", "domainWidth": 1, "ticks": false, "labelFlush": false, "labelOverlap": false},
 "axisX": {"labelPadding": 13, "titlePadding": 3},
 "axisY": {"labelPadding": 9, "titlePadding": 16},
 "legend": {"orient": "top-right", "offset": 13, "fillColor": "#ffffff", "strokeColor": "#000000", "padding": 6, "labelFont": "Liberation Sans", "labelFontSize": 26, "labelColor": "#000000", "symbolType": "M-1,0H9", "symbolSize": 231, "symbolStrokeWidth": 1, "symbolOffset": 6, "labelOffset": 63, "rowPadding": 7, "labelLimit": 600}
}
}
